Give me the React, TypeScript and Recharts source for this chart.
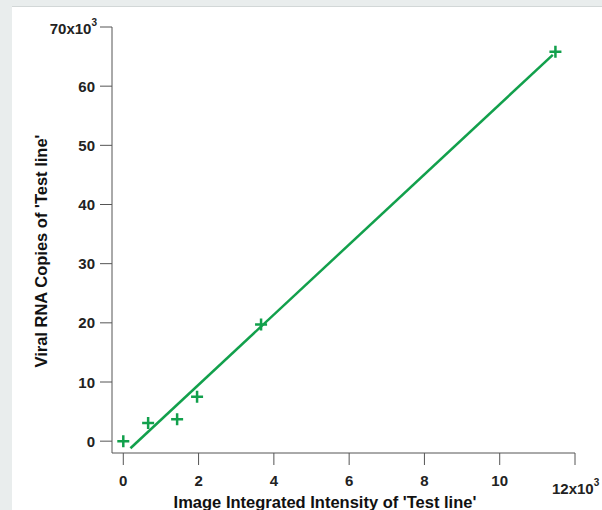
import { ScatterChart, Scatter, XAxis, YAxis, Label } from "recharts";

const intensity = [0, 0.66, 1.43, 1.96, 3.66, 11.48];
const copies = [0, 3.05, 3.7, 7.5, 19.7, 65.8];
const fitX = [0.19, 11.41];
const fitY = [-1.2, 65.3];
const xTicks = [0, 2, 4, 6, 8, 10, 12];
const yTicks = [0, 10, 20, 30, 40, 50, 60, 70];

const points = intensity.map((x, i) => ({ x, y: copies[i] }));
const fit = fitX.map((x, i) => ({ x, y: fitY[i] }));

const GREEN = "#12a04c";
const AXIS = "#555";
const FONT = "'Liberation Sans', Arial, sans-serif";

const Cross = (props: any) => {
  const { cx, cy } = props;
  if (cx == null || cy == null) return <g />;
  return (
    <path
      d={`M${cx - 6},${cy}H${cx + 6}M${cx},${cy - 6}V${cy + 6}`}
      stroke={GREEN}
      strokeWidth={2.5}
    />
  );
};

const XTick = (props: any) => {
  const { x, y, payload } = props;
  if (payload.value === 12) {
    return (
      <text x={x - 23} y={y + 26.5} textAnchor="start" fontFamily={FONT} fontWeight="bold" fontSize={15} fill="#222">
        12x10
        <tspan dy={-8} fontSize={10}>3</tspan>
      </text>
    );
  }
  return (
    <text x={x} y={y + 18.5} textAnchor="middle" fontFamily={FONT} fontWeight="bold" fontSize={15} fill="#222">
      {payload.value}
    </text>
  );
};

const YTick = (props: any) => {
  const { x, y, payload } = props;
  if (payload.value === 70) {
    return (
      <text x={x - 1} y={y + 7} textAnchor="end" fontFamily={FONT} fontWeight="bold" fontSize={15} fill="#222">
        70x10
        <tspan dy={-8} fontSize={10}>3</tspan>
      </text>
    );
  }
  return (
    <text x={x - 3} y={y + 5.5} textAnchor="end" fontFamily={FONT} fontWeight="bold" fontSize={15} fill="#222">
      {payload.value}
    </text>
  );
};

export default function App() {
  return (
    <div
      style={{
        position: "fixed",
        left: 0,
        top: 0,
        width: 602,
        height: 510,
        background: "#e9eded",
        overflow: "hidden",
      }}
    >
      <div
        style={{
          position: "absolute",
          left: 12,
          top: 6,
          width: 590,
          height: 504,
          background: "#fff",
          borderTop: "1px solid #d2d7d7",
        }}
      />
      <div style={{ position: "absolute", left: 0, top: 0 }}>
        <ScatterChart
          width={602}
          height={510}
          margin={{ top: 27, right: 27, left: 0, bottom: 0 }}
        >
          <XAxis
            type="number"
            dataKey="x"
            domain={[-0.3, 12]}
            ticks={xTicks}
            allowDataOverflow
            height={57}
            tickSize={12}
            stroke={AXIS}
            tick={<XTick />}
          >
            <Label
              content={() => (
                <text x={325} y={508} textAnchor="middle" fontFamily={FONT} fontWeight="bold" fontSize={16.5} fill="#111">
                  Image Integrated Intensity of 'Test line'
                </text>
              )}
            />
          </XAxis>
          <YAxis
            type="number"
            dataKey="y"
            domain={[-2, 70]}
            ticks={yTicks}
            allowDataOverflow
            width={112}
            tickSize={12}
            stroke={AXIS}
            tick={<YTick />}
          >
            <Label
              content={() => (
                <text
                  x={47}
                  y={251}
                  textAnchor="middle"
                  transform="rotate(-90 47 251)"
                  fontFamily={FONT}
                  fontWeight="bold"
                  fontSize={16.5}
                  fill="#111"
                >
                  Viral RNA Copies of 'Test line'
                </text>
              )}
            />
          </YAxis>
          <Scatter
            data={fit}
            line={{ stroke: GREEN, strokeWidth: 2.5 }}
            shape={() => <g />}
            isAnimationActive={false}
          />
          <Scatter data={points} shape={<Cross />} isAnimationActive={false} />
        </ScatterChart>
      </div>
    </div>
  );
}
